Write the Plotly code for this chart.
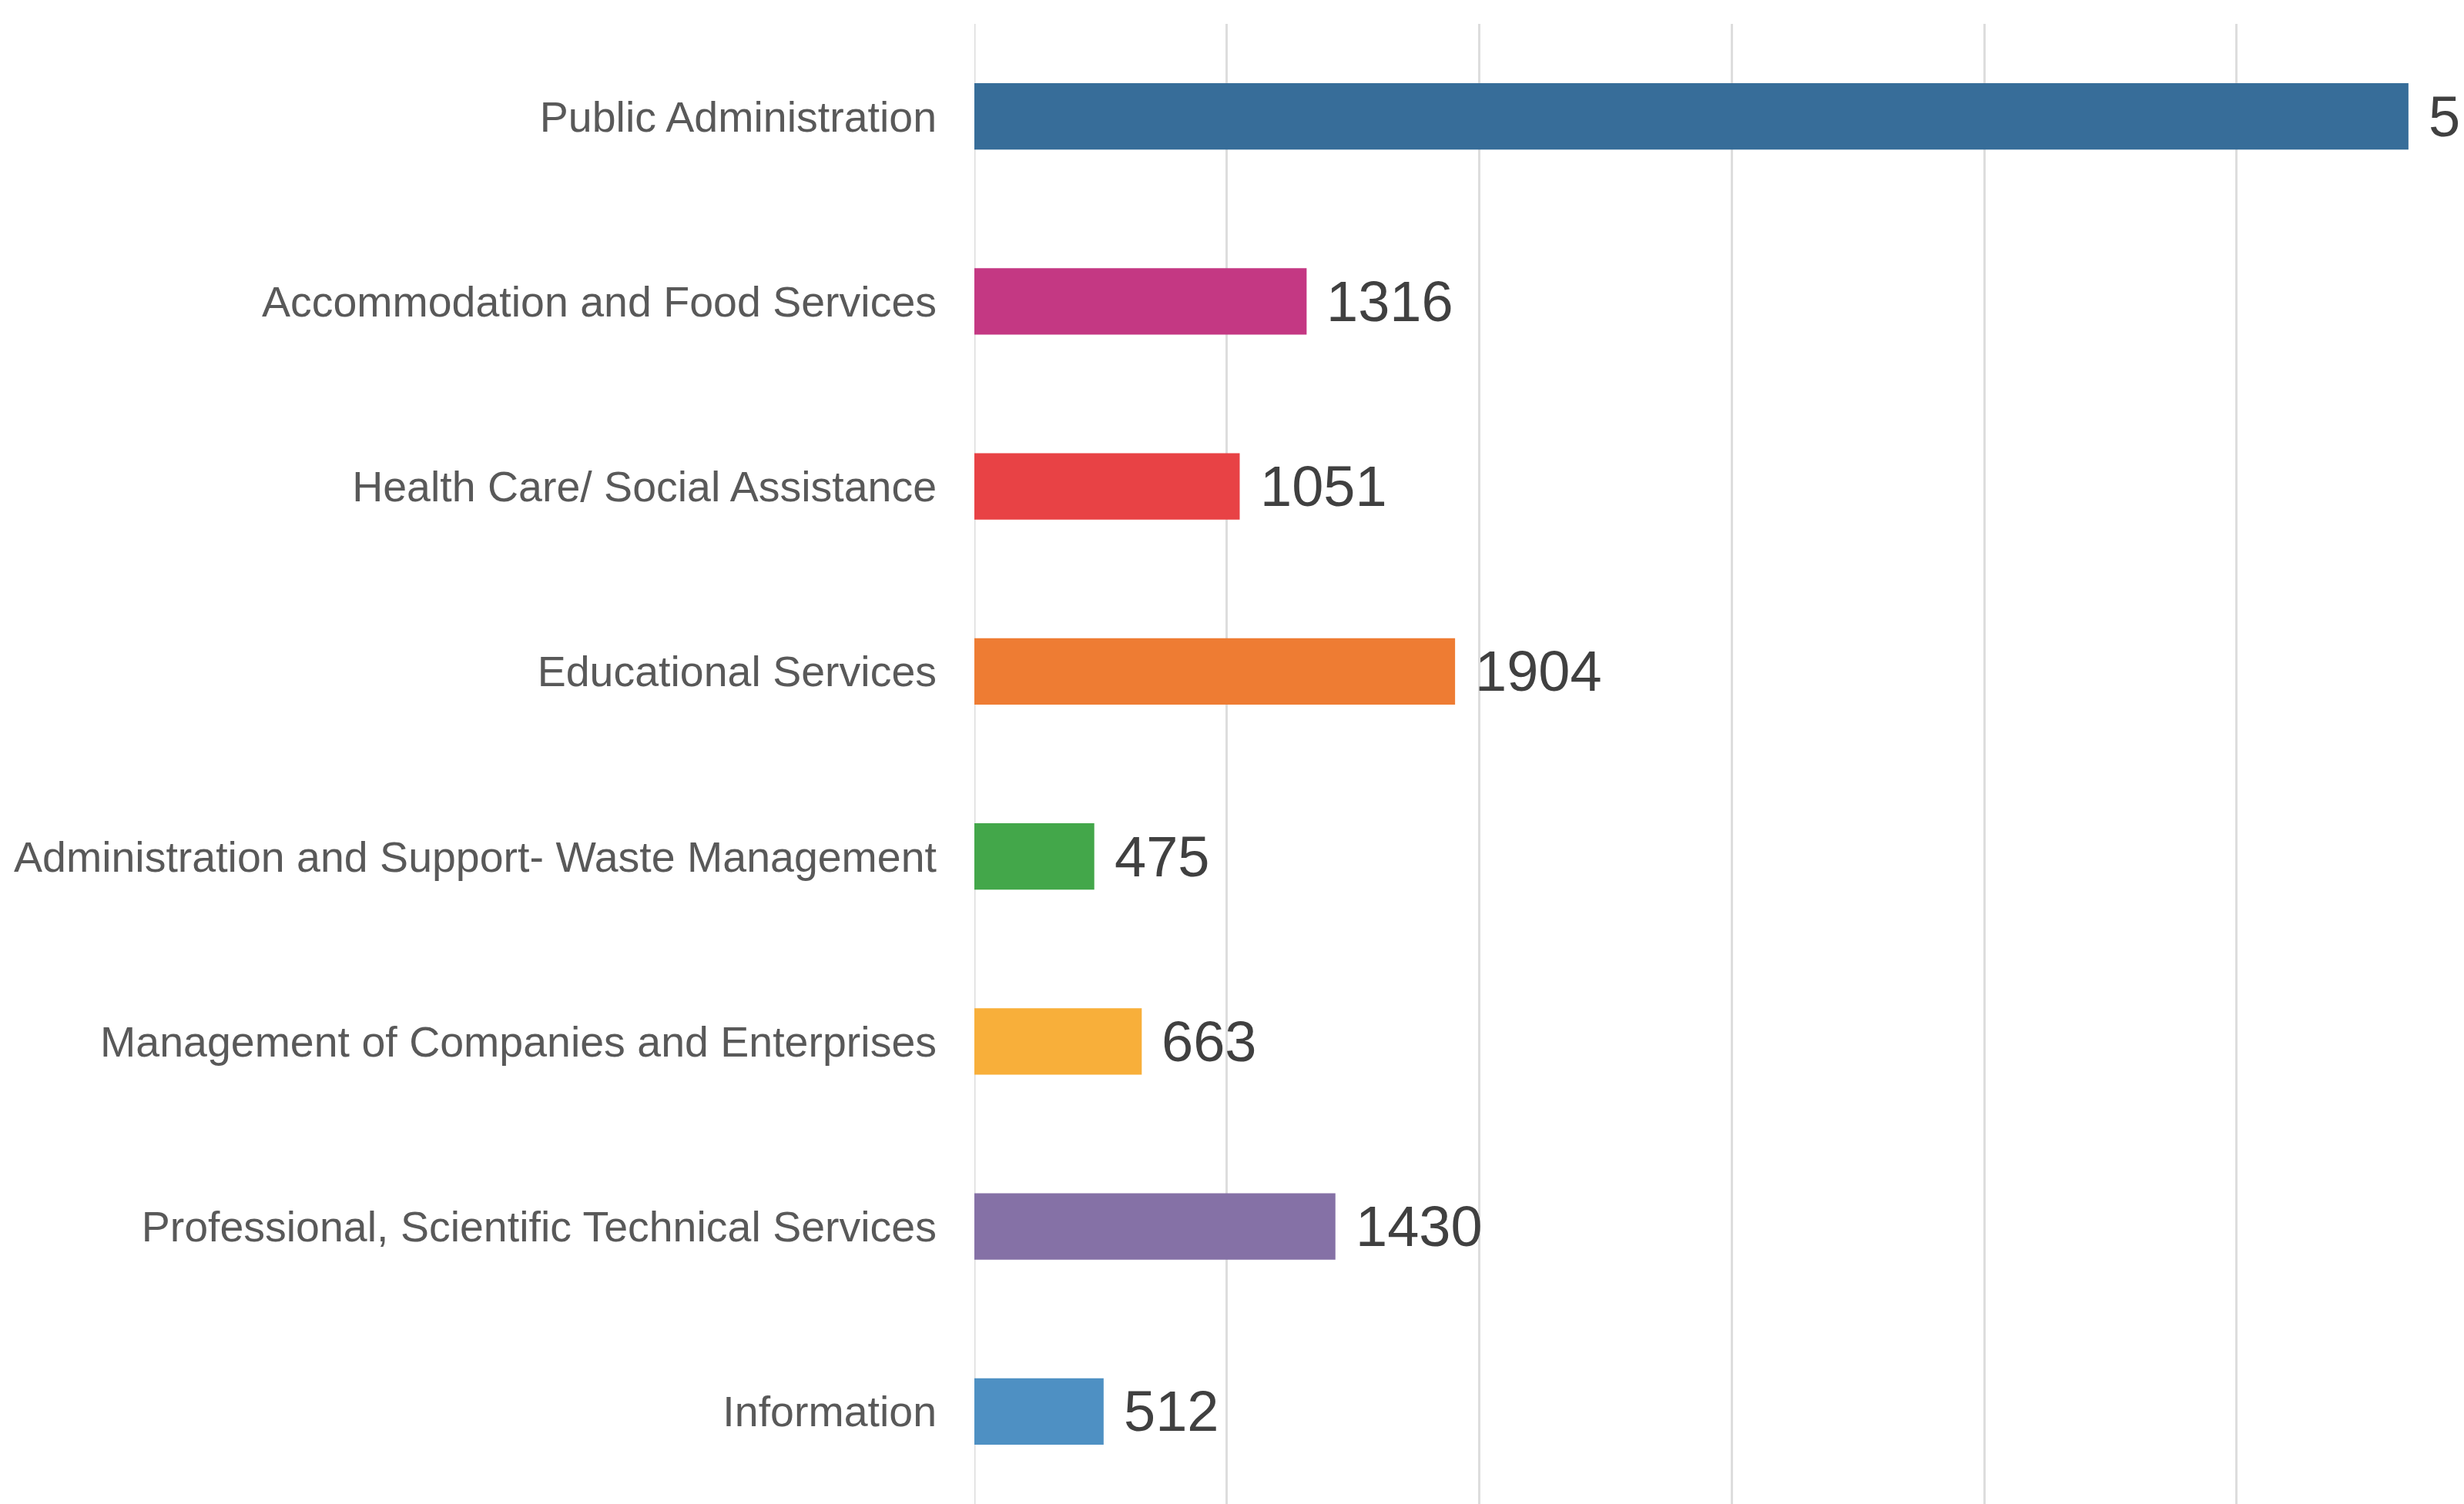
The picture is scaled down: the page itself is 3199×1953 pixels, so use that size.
import plotly.graph_objects as go

categories = [
    "Information",
    "Professional, Scientific Technical Services",
    "Management of Companies and Enterprises",
    "Administration and Support- Waste Management",
    "Educational Services",
    "Health Care/ Social Assistance",
    "Accommodation and Food Services",
    "Public Administration",
]
values = [512, 1430, 663, 475, 1904, 1051, 1316, 5680]
colors = ["#4E90C3", "#8571A6", "#F8AF3A", "#43A74A", "#EE7C33", "#E84245", "#C43883", "#376D99"]

fig = go.Figure()
fig.add_trace(go.Bar(
    x=values, y=categories, orientation="h",
    marker=dict(color=colors, line=dict(width=0)),
    width=0.36, hoverinfo="x+y",
))

for c, v in zip(categories, values):
    fig.add_annotation(
        x=v, y=c, text=str(v), showarrow=False,
        xanchor="left", yanchor="middle", xshift=24, yshift=0,
        font=dict(family="Liberation Sans, Arial, sans-serif", size=74, color="#404040"),
    )

# page body has an 8px default margin, so the figure is sized to fit the window
fig.update_layout(
    width=3191, height=1945,
    margin=dict(l=1257, r=0, t=23, b=0, pad=0),
    paper_bgcolor="white", plot_bgcolor="white",
    showlegend=False,
)
fig.update_xaxes(
    range=[0, 5900], dtick=1000, tick0=0,
    showgrid=True, gridcolor="#DDDDDD", gridwidth=3,
    showticklabels=False, zeroline=False, showline=False, ticks="",
)
fig.update_yaxes(
    categoryorder="array", categoryarray=categories, range=[-0.5, 7.5],
    showgrid=False, zeroline=False, showline=False, ticks="",
    ticklabelstandoff=48,
    tickfont=dict(family="Liberation Sans, Arial, sans-serif", size=55.5, color="#595959"),
)
fig.add_shape(type="line", xref="x", yref="paper", x0=0, x1=0, y0=0, y1=1,
              line=dict(color="#DDDDDD", width=3), layer="below")

fig.write_html("out.html")
